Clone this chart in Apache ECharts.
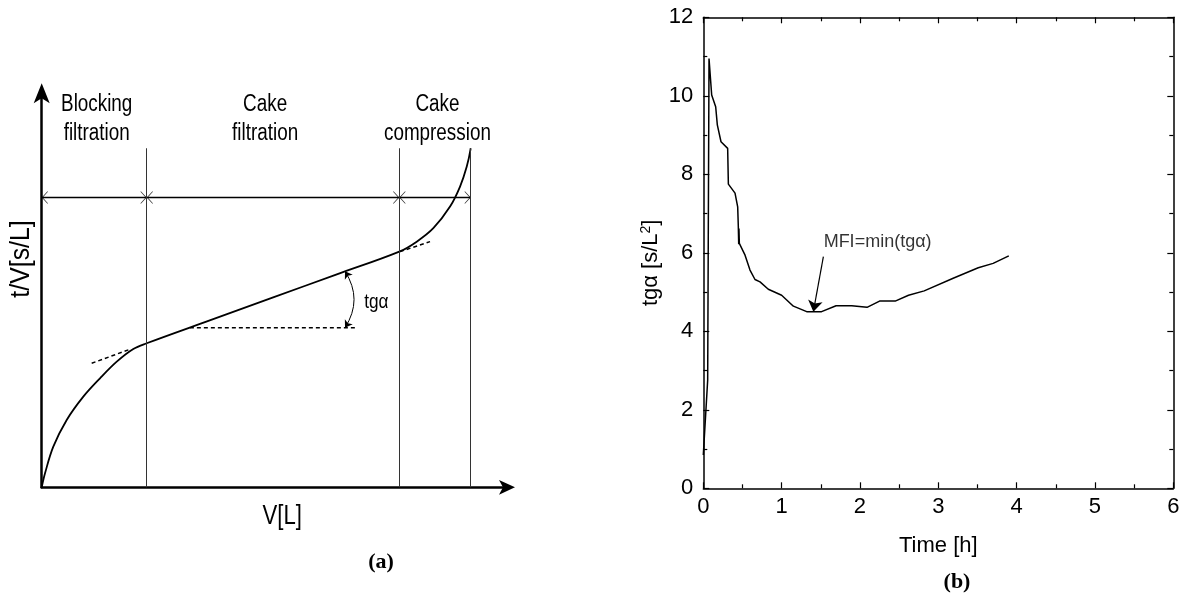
<!DOCTYPE html>
<html>
<head>
<meta charset="utf-8">
<script src="https://cdn.jsdelivr.net/npm/echarts@6/dist/echarts.min.js"></script>
<style>
  html, body { margin: 0; padding: 0; background: #ffffff; }
  #chart { width: 1183px; height: 596px; }
</style>
</head>
<body>
<div id="chart"></div>
<script>
// ---------- (a) schematic t/V versus V curve (arbitrary units) ----------
const curveV  = [0, 0.70, 2.45, 5.28, 8.79, 12.32, 15.85, 19.35, 22.18, 35.5, 48.9, 62.2, 75.55, 79.23, 82.74, 86.27, 88.38, 89.80, 90.64];
const curveTV = [0, 3.47, 10.05, 16.66, 22.43, 26.98, 31.09, 34.23, 35.64, 41.30, 46.99, 52.64, 58.32, 60.79, 64.11, 69.46, 74.41, 79.36, 83.91];

const stageBounds   = [22.18, 75.55, 90.64];
const stageTop      = 83.9;
const stageArrowTV  = 71.7;
const stageNames    = ['Blocking\nfiltration', 'Cake\nfiltration', 'Cake\ncompression'];
const stageLabelV   = [11.62, 47.2, 83.6];
const stageLabelTV  = 91.2;

const tangentLeft   = [[10.56, 30.69], [18.66, 34.16]];
const tangentRight  = [[75.70, 58.32], [82.04, 60.79]];
const slopeBase     = [[31.3, 39.5], [66.68, 39.5]];
const angleArc      = [[64.08, 53.44], [64.08, 39.5]];
const angleLabel    = [70.7, 45.8, 'tgα'];

const axisNameV     = [50.8, -7.35, 'V[L]'];
const axisNameTV    = [-4.2, 56.5, 't/V[s/L]'];

// ---------- (b) measured tgα versus filtration time ----------
const timeH   = [0, 0.056, 0.073, 0.107, 0.158, 0.179, 0.226, 0.311, 0.32, 0.405, 0.439, 0.447, 0.452, 0.455, 0.46, 0.533, 0.596, 0.66, 0.724, 0.83, 1.0, 1.15, 1.32, 1.51, 1.695, 1.895, 2.09, 2.25, 2.45, 2.62, 2.82, 3.19, 3.51, 3.70, 3.90];
const tgAlpha = [0.85, 2.76, 10.95, 10.02, 9.72, 9.26, 8.83, 8.66, 7.75, 7.52, 7.17, 6.67, 6.22, 6.62, 6.24, 5.94, 5.56, 5.32, 5.26, 5.07, 4.92, 4.64, 4.50, 4.50, 4.65, 4.65, 4.61, 4.77, 4.77, 4.92, 5.03, 5.35, 5.62, 5.73, 5.92];
const mfiArrow = [[1.533, 5.9], [1.405, 4.5]];
const mfiLabel = [2.225, 6.27, 'MFI=min(tgα)'];

const SANS   = "'Liberation Sans', Arial, sans-serif";
const SERIF  = "'Liberation Serif', 'Times New Roman', serif";
const NARROW_SCALE = 0.82;   // condensed look for the schematic's lettering

// open chevrons for the dimension line
const chevLeft  = 'path://M10,0 L0,10 L10,20 L10,18.4 L1.8,10 L10,1.6 Z';
const chevRight = 'path://M0,0 L10,10 L0,20 L0,18.4 L8.2,10 L0,1.6 Z';

const pairs = (xs, ys) => xs.map((x, i) => [x, ys[i]]);

const chart = echarts.init(document.getElementById('chart'), null, { renderer: 'canvas' });

const frameAxis = (extra) => Object.assign({
  type: 'value',
  gridIndex: 1,
  axisLine: { show: true, onZero: false, lineStyle: { color: '#000', width: 1.5 } },
  axisTick: { show: true, inside: true, length: 6, lineStyle: { color: '#000', width: 1.2 } },
  minorTick: { show: true, splitNumber: 2, length: 4, lineStyle: { color: '#000', width: 1.2 } },
  splitLine: { show: false },
  minorSplitLine: { show: false }
}, extra);

chart.setOption({
  animation: false,
  backgroundColor: '#ffffff',
  grid: [
    { left: 41.7, top: 93.3, width: 465.3, height: 394, containLabel: false },
    { left: 703.3, top: 17.3, width: 470, height: 471, containLabel: false }
  ],
  xAxis: [
    {
      type: 'value', gridIndex: 0, min: 0, max: 98.3,
      axisLine: { show: true, onZero: false, symbol: ['none', 'arrow'], symbolSize: [11, 16], symbolOffset: [0, 8],
                  lineStyle: { color: '#000', width: 2.5 } },
      axisTick: { show: false }, axisLabel: { show: false }, splitLine: { show: false }
    },
    frameAxis({
      min: 0, max: 6, interval: 1, position: 'bottom',
      axisLabel: { show: true, margin: 8, fontFamily: SANS, fontSize: 22, color: '#000' },
      name: 'Time [h]', nameLocation: 'middle', nameGap: 47,
      nameTextStyle: { fontFamily: SANS, fontSize: 22, color: '#000' }
    }),
    frameAxis({ min: 0, max: 6, interval: 1, position: 'top', axisLabel: { show: false } })
  ],
  yAxis: [
    {
      type: 'value', gridIndex: 0, min: 0, max: 97.5,
      axisLine: { show: true, onZero: false, symbol: ['none', 'arrow'], symbolSize: [12, 20], symbolOffset: [0, 10],
                  lineStyle: { color: '#000', width: 2.5 } },
      axisTick: { show: false }, axisLabel: { show: false }, splitLine: { show: false }
    },
    frameAxis({
      min: 0, max: 12, interval: 2, position: 'left',
      axisLabel: { show: true, margin: 10, fontFamily: SANS, fontSize: 22, color: '#000' },
      name: 'tgα [s/L{sup|2}]', nameLocation: 'middle', nameGap: 40,
      nameTextStyle: {
        fontFamily: SANS, fontSize: 22, color: '#000', padding: [0, 0, 0, -20],
        rich: { sup: { fontFamily: SANS, fontSize: 14, verticalAlign: 'top', padding: [0, 0, 10, 0] } }
      }
    }),
    frameAxis({ min: 0, max: 12, interval: 2, position: 'right', axisLabel: { show: false } })
  ],
  series: [
    // ----- panel (a) -----
    {
      name: 'filtration curve', type: 'line', xAxisIndex: 0, yAxisIndex: 0,
      data: pairs(curveV, curveTV), smooth: 0.35, showSymbol: false, silent: true,
      lineStyle: { color: '#000', width: 1.8 },
      markLine: {
        silent: true, symbol: 'none', label: { show: false }, animation: false,
        lineStyle: { color: '#333', width: 1, type: 'solid' },
        data: stageBounds.map(v => [{ coord: [v, 0] }, { coord: [v, stageTop] }])
      }
    },
    {
      name: 'stage span', type: 'line', xAxisIndex: 0, yAxisIndex: 0, silent: true, showSymbol: false,
      data: [[0, stageArrowTV], [stageBounds[2], stageArrowTV]],
      lineStyle: { color: '#000', width: 1.5 }
    },
    {
      name: 'span ends left', type: 'scatter', xAxisIndex: 0, yAxisIndex: 0, silent: true,
      symbol: chevLeft, symbolSize: [6, 13], symbolOffset: [3, 0], itemStyle: { color: '#000' },
      data: [[0, stageArrowTV], [stageBounds[0], stageArrowTV], [stageBounds[1], stageArrowTV]]
    },
    {
      name: 'span ends right', type: 'scatter', xAxisIndex: 0, yAxisIndex: 0, silent: true,
      symbol: chevRight, symbolSize: [6, 13], symbolOffset: [-3, 0], itemStyle: { color: '#000' },
      data: [[stageBounds[0], stageArrowTV], [stageBounds[1], stageArrowTV], [stageBounds[2], stageArrowTV]]
    },
    {
      name: 'tangent left', type: 'line', xAxisIndex: 0, yAxisIndex: 0, silent: true, showSymbol: false,
      data: tangentLeft, lineStyle: { color: '#000', width: 1.5, type: [4, 3] }
    },
    {
      name: 'tangent right', type: 'line', xAxisIndex: 0, yAxisIndex: 0, silent: true, showSymbol: false,
      data: tangentRight, lineStyle: { color: '#000', width: 1.5, type: [4, 3] }
    },
    {
      name: 'slope base', type: 'line', xAxisIndex: 0, yAxisIndex: 0, silent: true, showSymbol: false,
      data: slopeBase, lineStyle: { color: '#000', width: 1.5, type: [4, 3] }
    },
    {
      name: 'angle arc', type: 'lines', coordinateSystem: 'cartesian2d', xAxisIndex: 0, yAxisIndex: 0, silent: true,
      symbol: ['arrow', 'arrow'], symbolSize: 7,
      lineStyle: { color: '#000', width: 1, curveness: 0.32, opacity: 1 },
      data: [{ coords: angleArc }]
    },
    // ----- panel (b) -----
    {
      name: 'tgα', type: 'line', xAxisIndex: 1, yAxisIndex: 1, silent: true, showSymbol: false,
      data: pairs(timeH, tgAlpha), lineStyle: { color: '#000', width: 1.5 }
    },
    {
      name: 'MFI arrow', type: 'lines', coordinateSystem: 'cartesian2d', xAxisIndex: 1, yAxisIndex: 1, silent: true,
      symbol: ['none', 'arrow'], symbolSize: [6, 11],
      lineStyle: { color: '#000', width: 1.2, opacity: 1 },
      data: [{ coords: mfiArrow }]
    },
    {
      name: 'MFI label', type: 'scatter', xAxisIndex: 1, yAxisIndex: 1, silent: true,
      symbolSize: 1, itemStyle: { color: 'rgba(0,0,0,0)' },
      label: { show: true, position: 'inside', formatter: p => p.data[2], fontFamily: SANS, fontSize: 18, color: '#000' },
      data: [mfiLabel]
    }
  ]
});

// Lettering of the schematic, placed through the grid's scale and drawn condensed.
const px = (v, tv) => chart.convertToPixel({ gridIndex: 0 }, [v, tv]);
const narrowText = (pos, text, size, extra) => Object.assign({
  type: 'text', x: pos[0], y: pos[1], scaleX: NARROW_SCALE, silent: true,
  style: { text: text, font: size + 'px ' + SANS, fill: '#000', align: 'center', verticalAlign: 'middle' }
}, extra || {});

const graphics = [];
stageNames.forEach((n, i) => {
  const g = narrowText(px(stageLabelV[i], stageLabelTV), n, 23);
  g.style.lineHeight = 29;
  graphics.push(g);
});
graphics.push(narrowText(px(angleLabel[0], angleLabel[1]), angleLabel[2], 21));
graphics.push(narrowText(px(axisNameV[0], axisNameV[1]), axisNameV[2], 27));
graphics.push(narrowText(px(axisNameTV[0], axisNameTV[1]), axisNameTV[2], 27, { rotation: Math.PI / 2, scaleX: 0.92 }));
graphics.push({ type: 'text', x: 381, y: 562, silent: true,
  style: { text: '(a)', font: 'bold 22px ' + SERIF, fill: '#000', align: 'center', verticalAlign: 'middle' } });
graphics.push({ type: 'text', x: 957, y: 582, silent: true,
  style: { text: '(b)', font: 'bold 22px ' + SERIF, fill: '#000', align: 'center', verticalAlign: 'middle' } });

chart.setOption({ graphic: graphics });
</script>
</body>
</html>
